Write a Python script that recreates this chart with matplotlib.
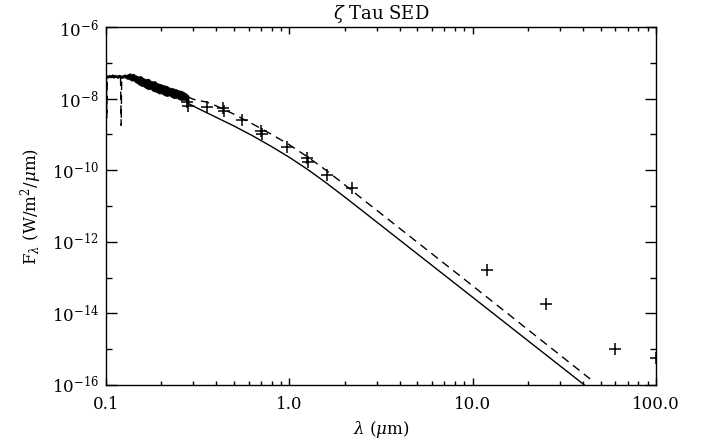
import matplotlib
matplotlib.use('Agg')
import matplotlib.pyplot as plt
import numpy as np

plt.rcParams['font.family'] = ['DejaVu Serif']
plt.rcParams['mathtext.fontset'] = 'dejavuserif'

# UV spectrum (thick noisy band): upper / lower envelopes, log10 F
spec_wave = [0.100, 0.102, 0.104, 0.106, 0.108, 0.110, 0.112, 0.114, 0.116, 0.118,
             0.120, 0.123, 0.126, 0.129, 0.132, 0.135, 0.138, 0.141, 0.144, 0.147,
             0.150, 0.155, 0.160, 0.165, 0.170, 0.175, 0.180, 0.185, 0.190, 0.195,
             0.200, 0.207, 0.214, 0.221, 0.228, 0.235, 0.242, 0.250, 0.258, 0.266,
             0.274, 0.282]
spec_hi = [-7.34, -7.36, -7.33, -7.35, -7.32, -7.34, -7.33, -7.36, -7.34, -7.33,
           -7.35, -7.36, -7.32, -7.34, -7.31, -7.29, -7.32, -7.30, -7.34, -7.36,
           -7.38, -7.37, -7.43, -7.45, -7.44, -7.50, -7.52, -7.51, -7.57, -7.58,
           -7.60, -7.63, -7.64, -7.69, -7.70, -7.72, -7.74, -7.77, -7.78, -7.82,
           -7.86, -7.92]
spec_lo = [-7.40, -7.42, -7.39, -7.41, -7.40, -7.42, -7.39, -7.41, -7.42, -7.40,
           -7.43, -7.42, -7.40, -7.44, -7.45, -7.47, -7.50, -7.49, -7.54, -7.56,
           -7.60, -7.64, -7.66, -7.71, -7.74, -7.73, -7.79, -7.80, -7.83, -7.86,
           -7.85, -7.90, -7.93, -7.91, -7.96, -7.99, -7.98, -8.02, -8.04, -8.03,
           -8.06, -8.10]

# model curves, log10 F
solid_wave = [0.277, 0.316, 0.398, 0.501, 0.631, 0.794, 1.0, 1.259, 1.585, 1.995,
              2.512, 10.0, 50.0]
solid_logf = [-8.12, -8.27, -8.52, -8.77, -9.04, -9.33, -9.64, -9.98, -10.35, -10.74,
              -11.14, -13.55, -16.36]

dash_wave = [0.100, 0.1005, 0.1010, 0.1016, 0.110, 0.120, 0.1210, 0.1218, 0.130, 0.150,
             0.180, 0.220, 0.260, 0.300, 0.355, 0.398, 0.501, 0.631, 0.794, 1.0,
             1.259, 1.585, 1.995, 2.512, 10.0, 43.7]
dash_logf = [-7.40, -7.40, -8.55, -7.40, -7.38, -7.38, -8.75, -7.38, -7.37, -7.42,
             -7.55, -7.72, -7.88, -8.02, -8.10, -8.20, -8.44, -8.71, -8.99, -9.29,
             -9.63, -10.00, -10.40, -10.81, -13.23, -15.83]

# photometry
phot_wave = [0.277, 0.28, 0.356, 0.435, 0.44, 0.55, 0.70, 0.71, 0.97, 1.25, 1.26,
             1.6, 2.2, 12.0, 25.0, 60.0, 100.0]
phot_flux = [8.0e-9, 6.2e-9, 5.9e-9, 5.5e-9, 4.5e-9, 2.5e-9, 1.26e-9, 1.0e-9, 4.5e-10,
             2.2e-10, 1.7e-10, 7.4e-11, 3.2e-11, 1.6e-13, 1.8e-14, 1.0e-15, 5.7e-16]

fig = plt.figure(figsize=(7.02, 4.41), dpi=100)
ax = fig.add_axes([106/702, 1-385/441, 550/702, 358/441])

ax.plot(dash_wave, 10**np.array(dash_logf), color='black', lw=1.0, dashes=(6, 4))
ax.fill_between(spec_wave, 10**np.array(spec_lo), 10**np.array(spec_hi),
                color='black', linewidth=0.5)
ax.plot(solid_wave, 10**np.array(solid_logf), color='black', lw=1.0)
ax.plot(phot_wave, phot_flux, linestyle='none', marker='+', ms=9, mew=1.1, color='black')

ax.set_xscale('log')
ax.set_yscale('log')
ax.set_xlim(0.1, 100)
ax.set_ylim(1e-16, 1e-6)

ax.set_xticks([0.1, 1, 10, 100])
ax.set_xticklabels(['0.1', '1.0', '10.0', '100.0'])
ax.xaxis.set_minor_locator(matplotlib.ticker.LogLocator(base=10, subs=np.arange(2, 10)))
ax.xaxis.set_minor_formatter(matplotlib.ticker.NullFormatter())
ax.set_yticks([1e-16, 1e-14, 1e-12, 1e-10, 1e-8, 1e-6])
ax.set_yticklabels([r'$10^{-%d}$' % e for e in [16, 14, 12, 10, 8, 6]])
ax.set_yticks([1e-15, 1e-13, 1e-11, 1e-9, 1e-7], minor=True)
ax.yaxis.set_minor_formatter(matplotlib.ticker.NullFormatter())

ax.tick_params(which='both', direction='in', top=True, right=True, labelsize=12, width=1)
ax.tick_params(axis='x', which='major', length=5.2, pad=8)
ax.tick_params(axis='x', which='minor', length=2.6)
ax.tick_params(axis='y', which='major', length=8, pad=5)
ax.tick_params(axis='y', which='minor', length=4)
for s in ax.spines.values():
    s.set_linewidth(1)

ax.set_title(r'$\zeta$ Tau SED', fontsize=13, pad=6)
ax.set_xlabel(r'$\lambda$ ($\mu$m)', fontsize=12, labelpad=4)
ax.set_ylabel(r'F$_\lambda$ (W/m$^2$/$\mu$m)', fontsize=12, labelpad=6)

fig.savefig('out.png', dpi=100)
